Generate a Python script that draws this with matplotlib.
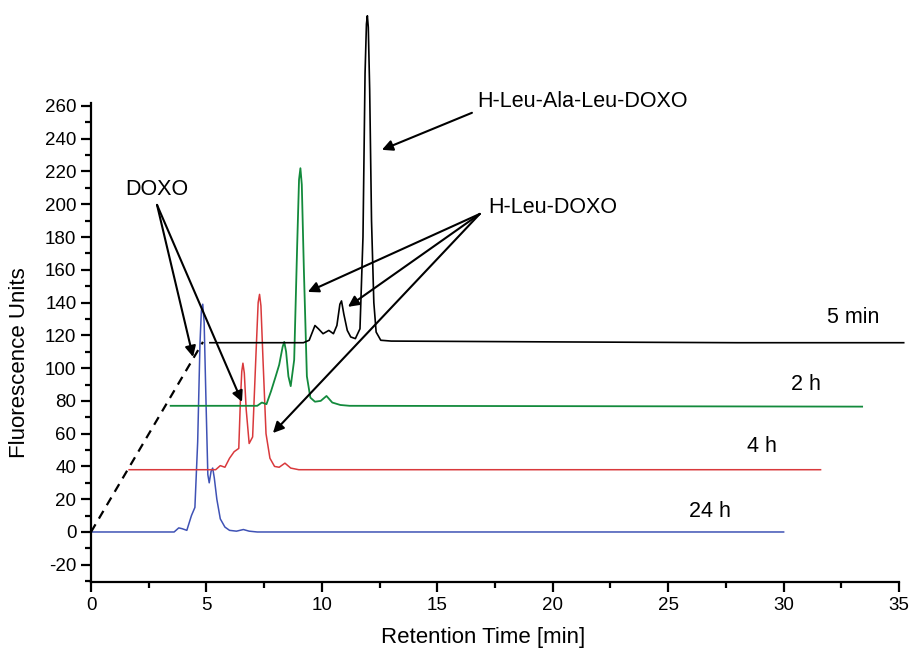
import matplotlib
matplotlib.use("Agg")
import matplotlib.pyplot as plt
from matplotlib.ticker import MultipleLocator

plt.rcParams['font.family'] = ['Liberation Sans', 'DejaVu Sans']
plt.rcParams['axes.unicode_minus'] = False

# chromatograms (time in min, fluorescence units, offset baselines)
t_24h = [0, 3.6, 3.8, 3.95, 4.15, 4.35, 4.5, 4.62, 4.72, 4.78, 4.84, 4.9, 4.98, 5.06, 5.12, 5.2, 5.27, 5.34, 5.45, 5.6, 5.8, 6.0, 6.3, 6.6, 6.85, 7.2, 30.0]
y_24h = [0, 0, 2.5, 2, 1, 10, 15, 55, 115, 135, 139, 128, 80, 35, 30, 37, 39, 33, 20, 8, 3, 1, 0.5, 1.5, 0.5, 0, 0]

t_4h = [1.65, 5.4, 5.6, 5.8, 6.0, 6.2, 6.4, 6.47, 6.53, 6.58, 6.64, 6.72, 6.85, 7.0, 7.15, 7.24, 7.3, 7.36, 7.45, 7.58, 7.75, 7.95, 8.15, 8.4, 8.65, 9.0, 31.6]
y_4h = [38, 38, 40.5, 39.5, 45, 49, 51, 80, 98, 103, 97, 75, 54, 58, 110, 140, 145, 138, 105, 60, 45, 40, 39.5, 42, 39, 38, 38]

t_2h = [3.45, 7.2, 7.4, 7.6, 7.8, 8.0, 8.15, 8.3, 8.37, 8.45, 8.55, 8.65, 8.8, 8.93, 9.01, 9.07, 9.13, 9.22, 9.35, 9.5, 9.7, 9.95, 10.2, 10.45, 10.8, 11.2, 33.4]
y_2h = [77, 77, 79, 78, 86, 95, 102, 113, 116, 110, 95, 89, 105, 175, 215, 222, 212, 160, 95, 82, 79.5, 80, 83, 79, 77.5, 77, 76.5]

t_5min = [5.15, 9.2, 9.45, 9.7, 9.85, 10.05, 10.3, 10.5, 10.65, 10.78, 10.85, 10.95, 11.1, 11.25, 11.45, 11.65, 11.78, 11.87, 11.93, 11.97, 12.01, 12.07, 12.15, 12.25, 12.35, 12.55, 13.0, 20.0, 28.0, 35.2]
y_5min = [115.5, 115.5, 117, 126, 124, 121, 123, 121, 126, 139, 141, 133, 123, 119, 118, 124, 180, 280, 310, 315, 308, 270, 190, 140, 122, 117, 116.5, 116, 115.5, 115.5]

# offset guide from origin to the 5 min baseline
dash_t = [0, 4.85]
dash_y = [0, 116]

trace_labels = ["5 min", "2 h", "4 h", "24 h"]
trace_label_pos = [(33.0, 130.6), (30.95, 89.7), (29.05, 51.9), (26.8, 12.2)]

fig = plt.figure(figsize=(9.11, 6.55), dpi=100)
ax = fig.add_axes([0.0999, 0.1115, 0.887, 0.7313])

ax.plot(t_24h, y_24h, color="#3f52b5", linewidth=1.1, clip_on=False)
ax.plot(t_4h, y_4h, color="#d9393c", linewidth=1.1, clip_on=False)
ax.plot(t_2h, y_2h, color="#138a3c", linewidth=1.3, clip_on=False)
ax.plot(t_5min, y_5min, color="black", linewidth=1.2, clip_on=False)
ax.plot(dash_t, dash_y, color="black", linewidth=1.6, linestyle=(0, (4, 3)))

for lab, (x, y) in zip(trace_labels, trace_label_pos):
    ax.text(x, y, lab, fontsize=15.5, ha="center", va="center")

arrow = dict(arrowstyle="-|>", color="black", lw=1.5, mutation_scale=16, shrinkA=0, shrinkB=0)

ax.text(2.86, 208.8, "DOXO", fontsize=15.5, ha="center", va="center")
for head in [(4.42, 106.8), (6.54, 79.4)]:
    ax.annotate("", xy=head, xytext=(2.86, 199.6), arrowprops=arrow, annotation_clip=False)

ax.text(16.75, 262.5, "H-Leu-Ala-Leu-DOXO", fontsize=15.5, ha="left", va="center")
ax.annotate("", xy=(12.6, 233.2), xytext=(16.5, 255.8), arrowprops=arrow, annotation_clip=False)

ax.text(17.19, 197.8, "H-Leu-DOXO", fontsize=15.5, ha="left", va="center")
for head in [(9.39, 146.5), (11.13, 137.4), (7.88, 60.4)]:
    ax.annotate("", xy=head, xytext=(16.84, 194.1), arrowprops=arrow, annotation_clip=False)

ax.set_xlim(0, 35)
ax.set_ylim(-30.5, 261.8)
ax.xaxis.set_major_locator(MultipleLocator(5))
ax.xaxis.set_minor_locator(MultipleLocator(2.5))
ax.yaxis.set_major_locator(MultipleLocator(20))
ax.yaxis.set_minor_locator(MultipleLocator(10))
ax.set_yticks(list(range(-20, 261, 20)))

ax.spines["top"].set_visible(False)
ax.spines["right"].set_visible(False)
for s in ["left", "bottom"]:
    ax.spines[s].set_linewidth(1.6)
ax.tick_params(which="major", direction="out", length=7, width=1.6, labelsize=13.5)
ax.tick_params(which="minor", direction="out", length=4.5, width=1.6)

ax.set_xlabel("Retention Time [min]", fontsize=16, va="center")
ax.set_ylabel("Fluorescence Units", fontsize=16, va="center", ha="center")
ax.xaxis.set_label_coords(0.485, -0.115)
ax.yaxis.set_label_coords(-0.088, 0.457)

fig.savefig("out.png", dpi=100)
